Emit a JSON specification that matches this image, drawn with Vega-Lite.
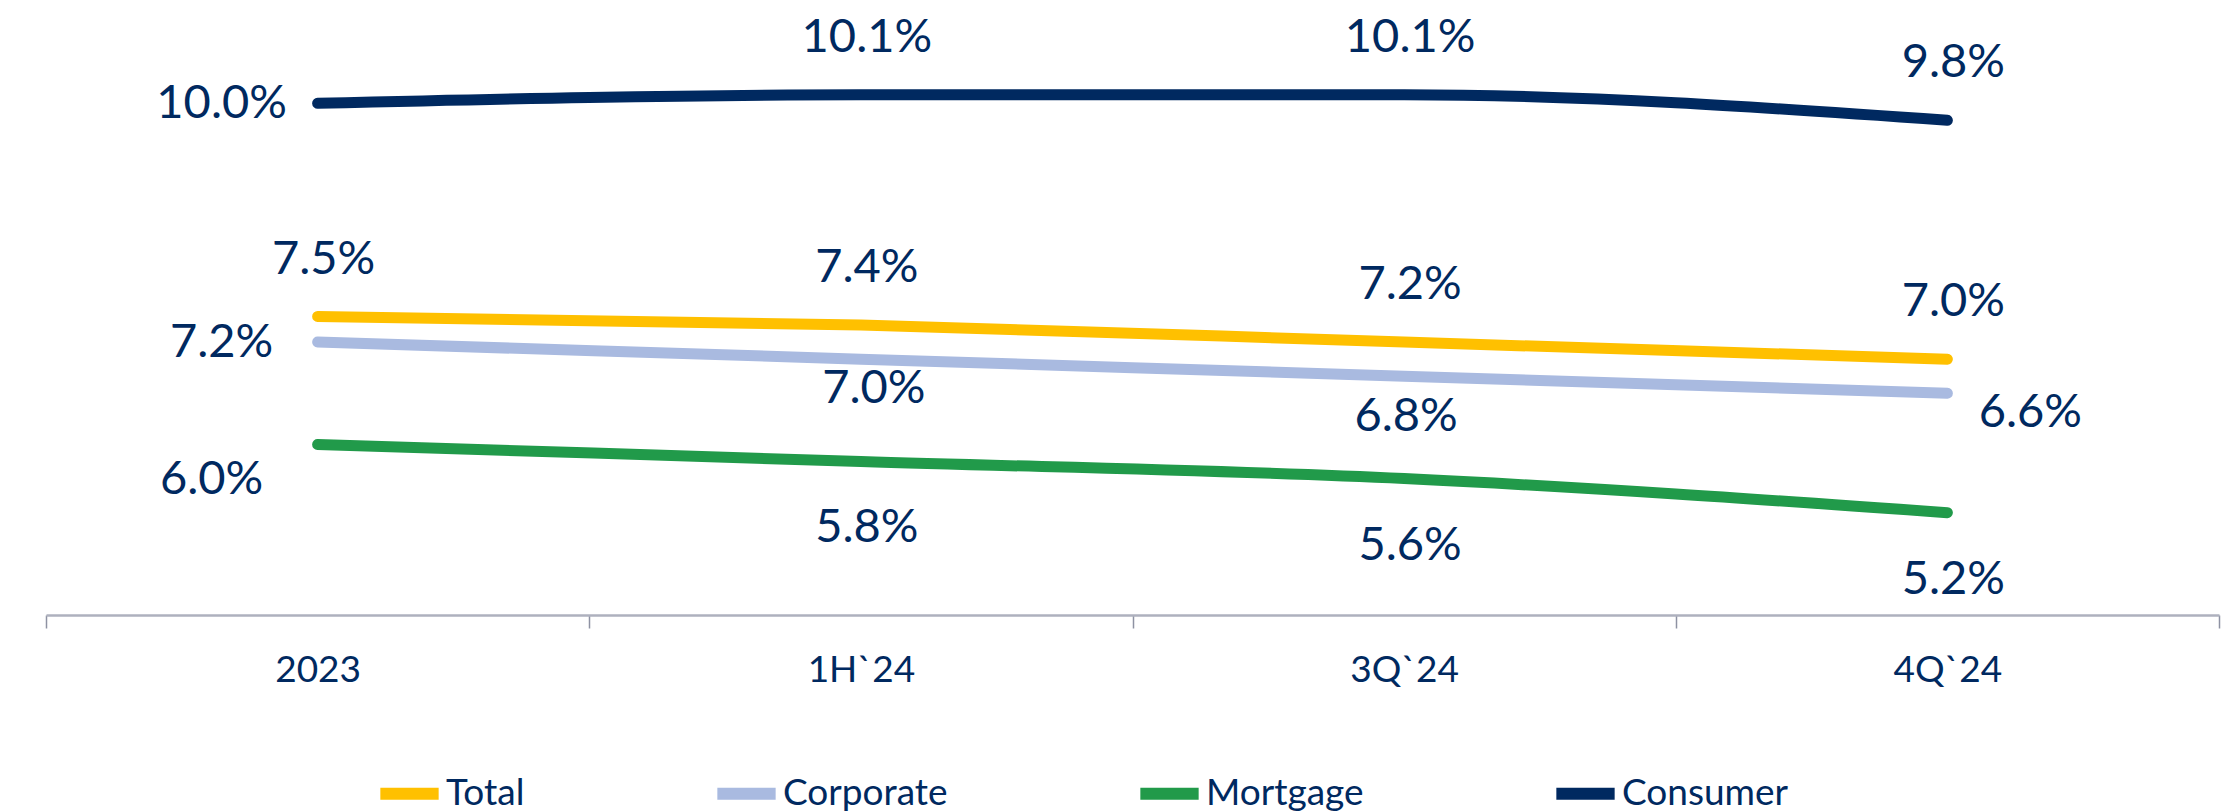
{
  "$schema": "https://vega.github.io/schema/vega-lite/v6.json",
  "autosize": {"type": "none"},
  "padding": {"left": 46, "top": 18, "right": 19, "bottom": 197},
  "width": 2173,
  "height": 597,
  "background": "white",
  "config": {
    "view": {"stroke": null},
    "font": "Lato",
    "axis": {"labelFont": "Lato", "titleFont": "Lato"},
    "legend": {"labelFont": "Lato"}
  },
  "data": {
    "values": [
      {"period": "2023", "series": "Total", "value": 0.075},
      {"period": "1H`24", "series": "Total", "value": 0.074},
      {"period": "3Q`24", "series": "Total", "value": 0.072},
      {"period": "4Q`24", "series": "Total", "value": 0.070},
      {"period": "2023", "series": "Corporate", "value": 0.072},
      {"period": "1H`24", "series": "Corporate", "value": 0.070},
      {"period": "3Q`24", "series": "Corporate", "value": 0.068},
      {"period": "4Q`24", "series": "Corporate", "value": 0.066},
      {"period": "2023", "series": "Mortgage", "value": 0.060},
      {"period": "1H`24", "series": "Mortgage", "value": 0.058},
      {"period": "3Q`24", "series": "Mortgage", "value": 0.056},
      {"period": "4Q`24", "series": "Mortgage", "value": 0.052},
      {"period": "2023", "series": "Consumer", "value": 0.100},
      {"period": "1H`24", "series": "Consumer", "value": 0.101},
      {"period": "3Q`24", "series": "Consumer", "value": 0.101},
      {"period": "4Q`24", "series": "Consumer", "value": 0.098}
    ]
  },
  "encoding": {
    "x": {
      "field": "period",
      "type": "nominal",
      "sort": ["2023", "1H`24", "3Q`24", "4Q`24"],
      "scale": {"type": "band", "paddingInner": 0, "paddingOuter": 0},
      "axis": {
        "title": null,
        "labelAngle": 0,
        "tickBand": "extent",
        "domainColor": "#AEB1BE",
        "domainWidth": 2.5,
        "tickColor": "#8E92A3",
        "tickWidth": 1.5,
        "tickSize": 13,
        "labelFontSize": 37,
        "labelColor": "#002960",
        "labelPadding": 24,
        "grid": false
      }
    },
    "y": {
      "field": "value",
      "type": "quantitative",
      "scale": {"domain": [0.04, 0.11], "zero": false, "nice": false},
      "axis": null
    }
  },
  "layer": [
    {
      "mark": {"type": "line", "interpolate": "monotone", "strokeWidth": 11, "strokeCap": "round", "strokeJoin": "round"},
      "encoding": {
        "color": {
          "field": "series",
          "type": "nominal",
          "scale": {
            "domain": ["Total", "Corporate", "Mortgage", "Consumer"],
            "range": ["#FFC000", "#A9BAE0", "#219A4A", "#002960"]
          },
          "legend": {
            "title": null,
            "orient": "none",
            "direction": "horizontal",
            "legendX": 328,
            "legendY": 740,
            "padding": 0,
            "symbolType": "stroke",
            "symbolSize": 3400,
            "symbolStrokeWidth": 12,
            "labelFontSize": 37,
            "labelColor": "#002960",
            "labelOffset": 1,
            "labelLimit": 0,
            "columnPadding": 168
          }
        }
      }
    },
    {
      "transform": [{"filter": "datum.series == 'Total' || (datum.series == 'Consumer' && datum.period != '2023')"}],
      "mark": {"type": "text", "fontSize": 47, "color": "#002960", "baseline": "middle", "align": "center", "dx": 6, "dy": -57},
      "encoding": {"text": {"field": "value", "type": "quantitative", "format": ".1%"}}
    },
    {
      "transform": [{"filter": "datum.period == '2023' && (datum.series == 'Consumer' || datum.series == 'Corporate')"}],
      "mark": {"type": "text", "fontSize": 47, "color": "#002960", "baseline": "middle", "align": "center", "dx": -96, "dy": 1},
      "encoding": {"text": {"field": "value", "type": "quantitative", "format": ".1%"}}
    },
    {
      "transform": [{"filter": "datum.period == '2023' && datum.series == 'Mortgage'"}],
      "mark": {"type": "text", "fontSize": 47, "color": "#002960", "baseline": "middle", "align": "center", "dx": -106, "dy": 36},
      "encoding": {"text": {"field": "value", "type": "quantitative", "format": ".1%"}}
    },
    {
      "transform": [{"filter": "datum.period != '2023' && datum.series == 'Mortgage'"}],
      "mark": {"type": "text", "fontSize": 47, "color": "#002960", "baseline": "middle", "align": "center", "dx": 6, "dy": 67},
      "encoding": {"text": {"field": "value", "type": "quantitative", "format": ".1%"}}
    },
    {
      "transform": [{"filter": "datum.period == '1H`24' && datum.series == 'Corporate'"}],
      "mark": {"type": "text", "fontSize": 47, "color": "#002960", "baseline": "middle", "align": "center", "dx": 13, "dy": 30},
      "encoding": {"text": {"field": "value", "type": "quantitative", "format": ".1%"}}
    },
    {
      "transform": [{"filter": "datum.period == '3Q`24' && datum.series == 'Corporate'"}],
      "mark": {"type": "text", "fontSize": 47, "color": "#002960", "baseline": "middle", "align": "center", "dx": 2, "dy": 41},
      "encoding": {"text": {"field": "value", "type": "quantitative", "format": ".1%"}}
    },
    {
      "transform": [{"filter": "datum.period == '4Q`24' && datum.series == 'Corporate'"}],
      "mark": {"type": "text", "fontSize": 47, "color": "#002960", "baseline": "middle", "align": "center", "dx": 83, "dy": 20},
      "encoding": {"text": {"field": "value", "type": "quantitative", "format": ".1%"}}
    }
  ]
}
